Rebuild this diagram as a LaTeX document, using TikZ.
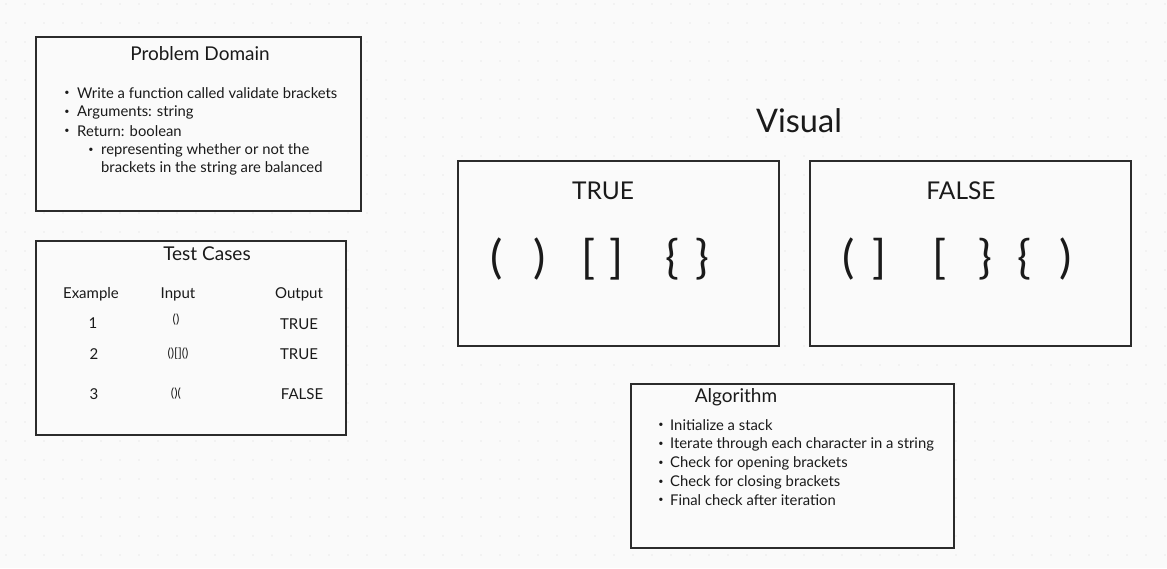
\documentclass[tikz,border=0pt]{standalone}
\usepackage{fontspec}
\setmainfont{Lato}
\definecolor{bg}{HTML}{FAFAFA}
\definecolor{dotc}{HTML}{DADADA}
\definecolor{frame}{HTML}{2B2B2B}
\definecolor{txt}{HTML}{1A1A1A}
\tikzset{
  panel/.style={draw=frame, line width=1.8pt, fill=bg},
  title/.style={text=txt, font=\fontsize{19}{22}\selectfont, inner sep=0pt},
  item/.style={text=txt, font=\fontsize{14.8}{17}\selectfont, anchor=west, inner sep=0pt},
  bul/.style={text=txt, font=\fontsize{9}{11}\selectfont, inner sep=0pt},
  cell/.style={text=txt, font=\fontsize{15}{18}\selectfont, inner sep=0pt},
  tiny/.style={text=txt, font=\fontsize{12.5}{14}\selectfont, inner sep=0pt},
  big/.style={text=txt, font=\fontsize{24.5}{28}\selectfont, inner sep=0pt},
  brk/.style={text=txt, font=\fontsize{46}{52}\selectfont, inner sep=0pt},
}
\begin{document}
\begin{tikzpicture}[x=1pt,y=-1pt]
\fill[bg] (0,0) rectangle (1167,568);
\useasboundingbox (0,0) rectangle (1167,568);
\foreach \i in {0,...,61} \foreach \j in {0,...,30} \fill[dotc] (6+\i*19,4+\j*19) circle (0.6);
% panels
\draw[panel] (36,37) rectangle (361,211);
\draw[panel] (36,241) rectangle (346,435);
\draw[panel] (458,161) rectangle (779,346);
\draw[panel] (810,161) rectangle (1131,346);
\draw[panel] (631,384) rectangle (954,548);
% Problem Domain
\node[title] (pdt) at (200,54) {Problem Domain};
\node[bul] (pb1) at (67,93) {•};
\node[item] (p1) at (77,93) {Write a function called validate brackets};
\node[bul] (pb2) at (67,112) {•};
\node[item] (p2) at (77,112) {Arguments: string};
\node[bul] (pb3) at (67,131) {•};
\node[item] (p3) at (77,131) {Return: boolean};
\node[bul] (pb4) at (91,150) {•};
\node[item] (p4) at (101,150) {representing whether or not the};
\node[item] (p5) at (101,168) {brackets in the string are balanced};
% Test Cases
\node[title] (tct) at (207,254) {Test Cases};
\node[cell] (hex) at (91,294) {Example};
\node[cell] (hin) at (178,294) {Input};
\node[cell] (hout) at (299,294) {Output};
\node[cell] (n1) at (93,323) {1};
\node[cell] (n2) at (94,354) {2};
\node[cell] (n3) at (94,394) {3};
\node[tiny] (i1) at (176,320) {()};
\node[tiny] (i2) at (178,354) {()[]()};
\node[tiny] (i3) at (176,394) {()(};
\node[cell] (o1) at (299,324) {TRUE};
\node[cell] (o2) at (299,354) {TRUE};
\node[cell] (o3) at (302,394) {FALSE};
% Visual
\node[text=txt, font=\fontsize{32.5}{36}\selectfont, inner sep=0pt] (vis) at (799,121) {Visual};
\node[big] (tt) at (603,191) {TRUE};
\node[brk] (t1) at (497,259) {(};
\node[brk] (t2) at (540,259) {)};
\node[brk] (t3) at (589,259) {[};
\node[brk] (t4) at (617,259) {]};
\node[brk] (t5) at (672,259) {\{};
\node[brk] (t6) at (702,259) {\}};
\node[big] (ft) at (961,191) {FALSE};
\node[brk] (f1) at (849,259) {(};
\node[brk] (f2) at (880,259) {]};
\node[brk] (f3) at (940,259) {[};
\node[brk] (f4) at (985,259) {\}};
\node[brk] (f5) at (1024,259) {\{};
\node[brk] (f6) at (1066,259) {)};
% Algorithm
\node[title] (alt) at (736,397) {Algorithm};
\foreach \y/\t [count=\k] in {425/Initialize a stack, 444/Iterate through each character in a string, 463/Check for opening brackets, 482/Check for closing brackets, 500/Final check after iteration}{
  \node[bul] (ab\k) at (661,\y) {•};
  \node[item] (a\k) at (670,\y) {\t};
}
\end{tikzpicture}
\end{document}
